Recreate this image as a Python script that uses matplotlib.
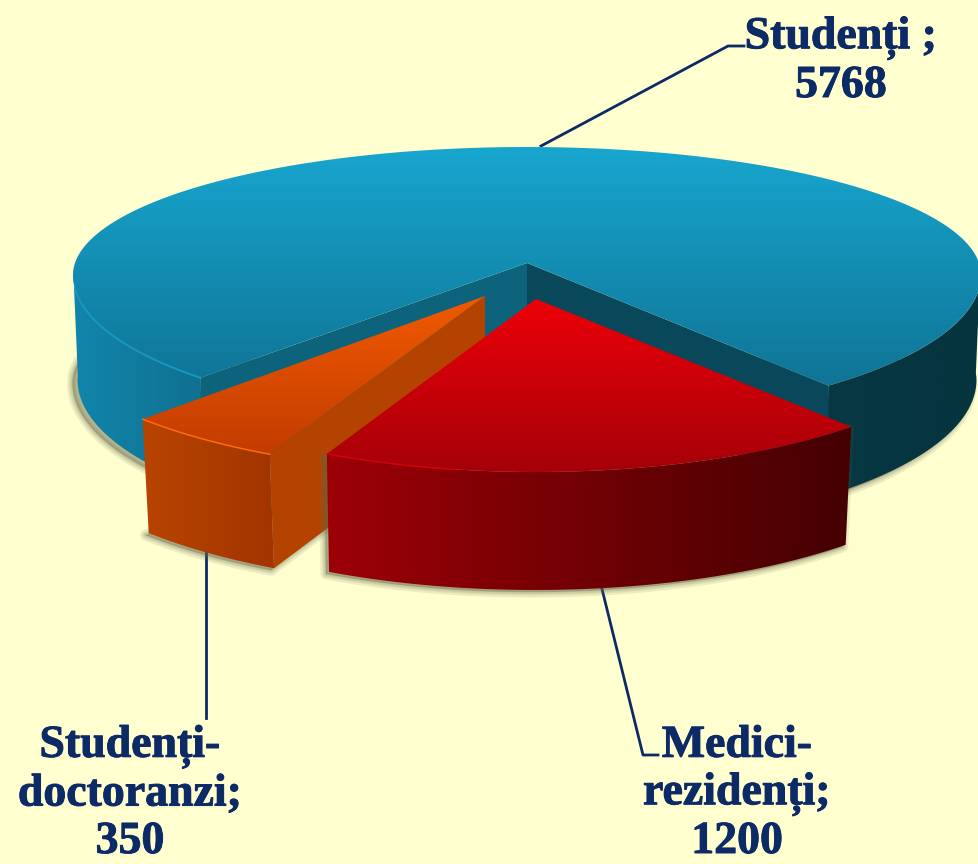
import numpy as np
import matplotlib
matplotlib.use('Agg')
import matplotlib.pyplot as plt
import matplotlib.patheffects as pe
from matplotlib.colors import to_rgb
from matplotlib.patches import Polygon

categories = ['Medici-\nrezidenți;', 'Studenți-\ndoctoranzi;', 'Studenți ;']
values = [1200, 350, 5768]

BG = '#ffffd0'
NAVY = '#0c2a66'
total = sum(values)


def arc(cx, cy, rx, ry_back, ry_front, a0, a1, n=120):
    # flat ellipse, the front half is deeper than the back (fake perspective)
    a = np.radians(np.linspace(a0, a1, n))
    s = np.sin(a)
    ry = np.where(s > 0, ry_front, ry_back)
    return np.column_stack([cx + rx * np.cos(a), cy + ry * s])


def gradient(ax, pts, c0, c1, horizontal, z):
    # gradient fill clipped to a polygon, c0 is left/top
    x0, y0 = pts.min(axis=0)
    x1, y1 = pts.max(axis=0)
    t = np.linspace(0, 1, 256)[:, None]
    img = (1 - t) * np.array(to_rgb(c0)) + t * np.array(to_rgb(c1))
    img = img[None, :, :] if horizontal else img[:, None, :]
    im = ax.imshow(img, extent=(x0, x1, y1, y0), aspect='auto', zorder=z, interpolation='bilinear')
    im.set_clip_path(Polygon(pts, transform=ax.transData))


def shadow(ax, pts, dx, dy, z):
    # soft shadow from stacked strokes
    p = pts + [dx, dy]
    for lw in [8, 5, 3, 1]:
        ax.add_patch(Polygon(p, closed=True, fc='#66664a', ec='#66664a', lw=lw, alpha=0.12,
                             joinstyle='round', zorder=z))


fig = plt.figure(figsize=(9.79, 8.64), dpi=100, facecolor=BG)
ax = fig.add_axes([0, 0, 1, 1])
ax.set_facecolor(BG)
ax.axis('off')

# angular sizes come from the values, stretched a bit by the tilt
res_span = values[0] / total * 360 * 1.21
doc_span = values[1] / total * 360 * 1.2
stu_span = values[2] / total * 360 * 0.96

# Studenti
ax0, ay0 = 527, 263
cy0 = ay0 + 12
rx0, back0, front0 = 454, 128, 148
depth0 = 105
s0 = 136
s1 = s0 + stu_span
top = arc(ax0, cy0, rx0, back0, front0, s0, s1, 300)
top = np.vstack([[ax0, ay0], top])
bottom_full = arc(ax0, cy0 + depth0, rx0 * 0.99, back0, front0 * 1.05, -10, 190, 200)
shadow(ax, bottom_full, -5, 3, 2)

left_top = arc(ax0, cy0, rx0, back0, front0, s0, 182)
left_bot = arc(ax0, cy0 + depth0, rx0 * 0.99, back0, front0 * 1.05, s0, 182)
gradient(ax, np.vstack([left_top, left_bot[::-1]]), '#1286ab', '#0f7090', True, 3)
right_top = arc(ax0, cy0, rx0, back0, front0, -3, s1 - 360)
right_bot = arc(ax0, cy0 + depth0, rx0 * 0.99, back0, front0 * 1.05, -3, s1 - 360)
gradient(ax, np.vstack([right_top, right_bot[::-1]]), '#063843', '#06343f', True, 3)

tip_l = top[1]
tip_r = top[-1]
ax.add_patch(Polygon([[ax0, ay0], tip_l, tip_l + [0, depth0], [ax0, ay0 + depth0]], fc='#0e637c', ec='none', zorder=4))
ax.add_patch(Polygon([[ax0, ay0], tip_r, tip_r + [0, depth0], [ax0, ay0 + depth0]], fc='#08485a', ec='none', zorder=4))
gradient(ax, top, '#18a6cf', '#0f7496', False, 5)
ax.plot(*left_top[:-20].T, color='#1797c2', lw=1.4, zorder=6)

# Studenti-doctoranzi
ax1, ay1 = 485, 296
cy1 = ay1 + 20
rx1, front1 = 454, 157
depth1 = 114
d0 = 118.3
d1 = d0 + doc_span
doc_arc = arc(ax1, cy1, rx1, front1, front1, d0, d1, 40)
doc_bot = arc(ax1 + 1, cy1 + depth1, rx1 * 0.985, front1, front1, d0, d1, 40)
doc_top = np.vstack([[ax1, ay1], doc_arc])
doc_wall = np.vstack([doc_arc, doc_bot[::-1]])
doc_side = np.array([[ax1, ay1], doc_arc[0], doc_bot[0], [ax1, ay1 + depth1]])
shadow(ax, np.vstack([doc_bot, doc_side[[3]]]), -3, 2, 7)
ax.add_patch(Polygon(doc_side, fc='#b54300', ec='none', zorder=8))
gradient(ax, doc_wall, '#b84400', '#a23400', True, 8)
gradient(ax, doc_top, '#f25a00', '#c23c00', False, 9)
ax.plot(*doc_arc.T, color='#ff6a10', lw=1.1, zorder=10)

# Medici-rezidenti
ax2, ay2 = 536, 299
cy2 = ay2 + 12
rx2, front2 = 454, 161
depth2 = 118
r0 = 46
r1 = r0 + res_span
res_arc = arc(ax2, cy2, rx2, front2, front2, r0, r1, 120)
res_bot = arc(ax2 - 1, cy2 + depth2, rx2 * 0.985, front2, front2, r0, r1, 120)
res_top = np.vstack([[ax2, ay2], res_arc])
res_wall = np.vstack([res_arc, res_bot[::-1]])
shadow(ax, res_wall, -3, 2, 11)
gradient(ax, res_wall, '#9c0006', '#440002', True, 12)
gradient(ax, res_top, '#ec0008', '#a60008', False, 13)
ax.plot(*res_arc[90:].T, color='#d80010', lw=1.0, zorder=14)

# leader lines
ax.plot([744, 728, 541], [46, 46, 146], color=NAVY, lw=2, zorder=1)
ax.plot([206, 206], [548, 718], color=NAVY, lw=2, zorder=1)
ax.plot([601, 643, 658], [585, 755, 755], color=NAVY, lw=2, zorder=1)

font = dict(family='Liberation Serif', fontweight='bold', fontsize=33, color=NAVY,
            ha='center', linespacing=1.17,
            path_effects=[pe.withStroke(linewidth=0.7, foreground=NAVY)])
ax.text(841, 97, f'{categories[2]}\n{values[2]}', va='baseline', **font)
ax.text(130, 853, f'{categories[1]}\n{values[1]}', va='baseline', **font)
ax.text(737, 853, f'{categories[0]}\n{values[0]}', va='baseline', **font)

ax.set_xlim(0, 979)
ax.set_ylim(864, 0)
fig.savefig('out.png', dpi=100, facecolor=BG)
